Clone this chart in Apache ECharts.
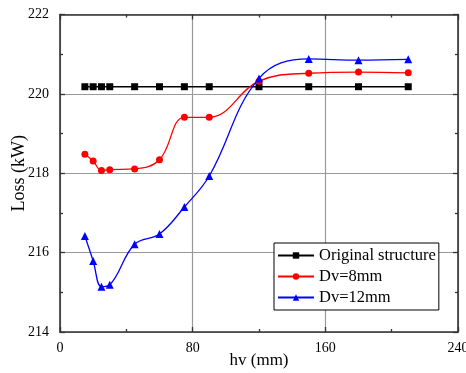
<!DOCTYPE html>
<html>
<head>
<meta charset="utf-8">
<script src="https://cdn.jsdelivr.net/npm/echarts@6/dist/echarts.min.js"></script>
<style>
  html, body { margin: 0; padding: 0; background: #fff; }
  #chart { width: 466px; height: 373px; }
</style>
</head>
<body>
<div id="chart"></div>
<script>
const hv = [15, 20, 25, 30, 45, 60, 75, 90, 120, 150, 180, 210];
const original = [220.18, 220.18, 220.18, 220.18, 220.18, 220.18, 220.18, 220.18, 220.18, 220.18, 220.18, 220.18];
const dv8 = [218.48, 218.31, 218.07, 218.09, 218.11, 218.34, 219.41, 219.41, 220.32, 220.52, 220.55, 220.53];
const dv12 = [216.42, 215.79, 215.14, 215.19, 216.21, 216.47, 217.15, 217.93, 220.39, 220.88, 220.85, 220.87];

const font = 'Liberation Serif, Times New Roman, serif';
const axisColor = '#333';

const pairs = (ys) => hv.map((x, i) => [x, ys[i]]);

const baseAxis = {
  axisLine: { show: true, onZero: false, lineStyle: { color: axisColor, width: 1.6 } },
  axisTick: { show: true, inside: true, length: 5, lineStyle: { color: axisColor, width: 1.3 } },
  minorTick: { show: true, splitNumber: 2, length: 3, lineStyle: { color: axisColor, width: 1.3 } },
  axisLabel: { color: '#000', fontFamily: font, fontSize: 14 },
  nameTextStyle: { color: '#000', fontFamily: font, fontSize: 17 },
  nameMoveOverlap: false
};

const chart = echarts.init(document.getElementById('chart'));

const makeSeries = (name, ys, color, symbol, size) => ({
  name,
  type: 'line',
  data: pairs(ys),
  smooth: 0.4,
  symbol,
  symbolSize: size,
  color,
  lineStyle: { color, width: 1.3 },
  itemStyle: { color },
  emphasis: { disabled: true }
});

chart.setOption({
  animation: false,
  backgroundColor: '#fff',
  grid: { left: 60, right: 8, top: 14.5, bottom: 41, outerBoundsMode: 'none' },
  xAxis: [
    Object.assign({}, baseAxis, {
      type: 'value', min: 0, max: 240, interval: 80,
      name: 'hv (mm)', nameLocation: 'middle', nameGap: 20,
      axisLabel: Object.assign({}, baseAxis.axisLabel, { margin: 9 }),
      splitLine: { show: true, lineStyle: { color: '#999', width: 1.2 } }
    }),
    Object.assign({}, baseAxis, {
      type: 'value', min: 0, max: 240, interval: 80, position: 'top',
      axisLabel: { show: false }, splitLine: { show: false }
    })
  ],
  yAxis: [
    Object.assign({}, baseAxis, {
      type: 'value', min: 214, max: 222, interval: 2,
      name: 'Loss (kW)', nameLocation: 'middle', nameGap: 32,
      nameTextStyle: { color: '#000', fontFamily: font, fontSize: 18 },
      axisLabel: Object.assign({}, baseAxis.axisLabel, { margin: 11 }),
      splitLine: { show: true, lineStyle: { color: '#999', width: 1.2 } }
    }),
    Object.assign({}, baseAxis, {
      type: 'value', min: 214, max: 222, interval: 2, position: 'right',
      axisLabel: { show: false }, splitLine: { show: false }
    })
  ],
  legend: {
    orient: 'vertical',
    left: 274, top: 243,
    padding: [4, 3, 4, 3],
    itemGap: 4,
    itemWidth: 36,
    itemHeight: 8,
    borderColor: '#000',
    borderWidth: 1,
    borderRadius: 0,
    backgroundColor: '#fff',
    textStyle: { color: '#000', fontFamily: font, fontSize: 16.5 },
    data: ['Original structure', 'Dv=8mm', 'Dv=12mm']
  },
  series: [
    makeSeries('Original structure', original, '#000', 'rect', 7),
    makeSeries('Dv=8mm', dv8, '#ff0000', 'circle', 7),
    makeSeries('Dv=12mm', dv12, '#0000ff', 'triangle', 8)
  ]
});
</script>
</body>
</html>
